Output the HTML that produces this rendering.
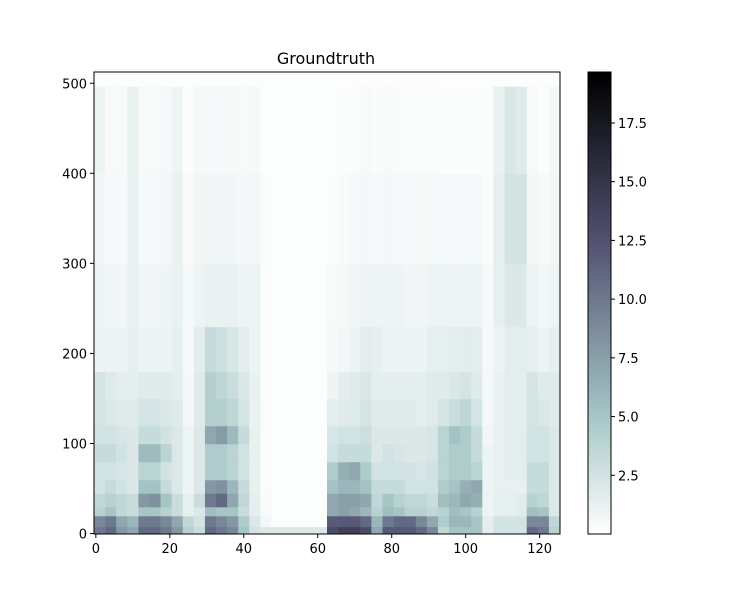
<!DOCTYPE html>
<html><head><meta charset="utf-8"><style>
body{margin:0;background:#fff;}
svg text{font-family:"DejaVu Sans","Liberation Sans",sans-serif;fill:#000;}
</style></head><body>
<svg id="chart" width="750" height="600" xmlns="http://www.w3.org/2000/svg">
<rect width="750" height="600" fill="#fff"/>
<text x="326" y="64" font-size="16" text-anchor="middle">Groundtruth</text>
<g id="cells"></g>
<rect x="94" y="72" width="466" height="462" fill="none" stroke="#000" stroke-width="1"/>
<g id="xaxis"></g>
<g id="yaxis"></g>
<g id="cbar"></g>
</svg>
<script>
const groupWidth = 3;
const bandEdges = [0,8,20,30,45,60,80,100,120,150,180,230,300,400,497,513];
const xTicks = [0,20,40,60,80,100,120];
const yTicks = [0,100,200,300,400,500];
const cbTicks = [2.5,5.0,7.5,10.0,12.5,15.0,17.5];
const vmax = 19.67;
const Z = 0.15;
const ZZ = [Z,Z,Z,Z,Z];
const b0 = [10,11,8,7,11,11,10,8,4,3,11,10,9,5,2.5,2,2,2,2,2,2,13,14,14,13,7,12,12,12,11,9,3.5,5,5,5,1.5,2.5,2.5,2.5,11,10,4];
const b1 = [9,10,7,6,10,10,9,7,3.5,2.5,10,9,8,4.5,2,0.8,...ZZ,12,12,12,11,6,10,11,11,9,7,4.5,6,6,5,1.5,2.5,2.5,2.5,9,9,3.5];
const b2 = [4,5,3.5,3,5,5,4,3,1.4,2,5.5,5,5,3,1.4,0.4,...ZZ,7,7.5,7,6,4,5.5,5,4,4,3.5,4,5.5,5,4,1,1.4,1.4,1.7,5.5,5,2];
const b3 = [3.5,4,3.5,3,8,8.5,5,3,1.4,3,10,11,7,3.5,1.4,0.4,...ZZ,7,7.5,7.5,7,3.5,5,4,3.5,3.5,3,5.5,6,7,6.5,1,1.4,1.4,1.7,4,3.5,2];
const b4 = [2.6,3.2,2.6,2,5.2,5.2,3.2,2,1,2,8,8.5,6,3.2,1.3,0.3,...ZZ,5.2,6,6,5.2,3.2,3.2,3.2,2.6,2.6,2.6,4.5,5.2,6.5,7,1,1.3,1.3,1.3,3.2,3.2,2];
const b5 = [2.6,2.6,2.3,2,3.9,3.9,2.6,2,1,2,4.5,4.5,3.9,2.6,1.3,0.3,...ZZ,4.5,6.5,7,4.5,2.6,2.6,2.6,2.6,2.3,2.6,3.9,4.5,4.5,3.9,1,1.3,1.6,1.6,3.2,3.2,2];
const b6 = [3.2,3.2,2.6,2,5.8,5.8,3.9,2,1,2,4.5,4.5,3.9,2.6,1.3,0.3,...ZZ,2.6,3.2,3.2,3.2,2,2.6,2.3,2,2,2.3,3.9,4.5,4.5,3.2,1,1.3,1.6,1.6,2.6,2.6,2];
const b7 = [2.6,2.6,2.3,2,3.2,3.2,2.6,2,1,2,7,7.8,5.8,3.2,1.3,0.3,...ZZ,2.3,2.6,2.6,2.9,2,2,2,2,2,2.3,3.9,5.2,4.5,3.2,0.8,1.3,1.6,1.6,2.6,2.6,2];
const b8 = [2.4,2.1,1.8,1.8,2.4,2.4,2.1,1.8,0.7,1.8,4.2,4.2,3.6,2.4,1.2,0.3,...ZZ,1.5,1.8,1.8,2.4,1.8,1.8,1.8,1.8,1.5,1.8,2.4,3,3.6,2.4,0.6,1.2,1.5,1.5,2.4,2.1,1.8];
const b9 = [2.4,1.8,1.5,1.5,1.8,1.8,1.8,1.5,0.6,1.8,4.2,3.6,3,2.1,1.2,0.2,...ZZ,0.9,1.5,1.8,2.1,1.5,1.5,1.5,1.5,1.5,1.8,1.8,2.1,2.4,1.8,0.6,1.2,1.5,1.5,2.4,1.8,1.8];
const b10 = [1.1,1.1,1.1,1.4,1.1,1.1,1.1,1.4,0.55,1.6,3.3,2.8,2.2,1.6,1.1,0.2,...ZZ,0.55,0.8,1.1,1.6,1.4,1.1,1.1,1.1,1.1,1.4,1.4,1.6,1.6,1.6,0.55,1.1,1.6,1.6,1.4,1.1,1.4];
const b11 = [1,0.75,0.75,1.25,0.75,0.75,0.9,1.25,0.5,1,1.25,1.25,1.25,1,1,0.2,...ZZ,0.4,0.5,0.75,1,1,1,1,0.75,0.75,1,1,1,1,1,0.5,1.4,2,2,1,0.75,1];
const b12 = [0.75,0.5,0.5,1.25,0.5,0.5,0.75,1.25,0.4,0.75,0.75,0.75,0.75,0.6,0.75,0.2,...ZZ,0.25,0.35,0.5,0.6,0.5,0.6,0.5,0.5,0.5,0.5,0.5,0.5,0.5,0.5,0.3,1.4,2.5,2.5,0.6,0.4,0.75];
const b13 = [1,0.4,0.4,1.25,0.4,0.4,0.6,1,0.25,0.5,0.5,0.5,0.5,0.4,0.5,0.1,...ZZ,0.15,0.2,0.3,0.4,0.3,0.4,0.3,0.3,0.3,0.3,0.25,0.25,0.25,0.25,0.2,1.2,2.2,1.8,0.4,0.25,0.6];
const b14 = [Z,Z,Z,Z,Z,Z,Z,Z,Z,Z,Z,Z,Z,Z,Z,Z,Z,Z,Z,Z,Z,Z,Z,Z,Z,Z,Z,Z,Z,Z,Z,Z,Z,Z,Z,Z,Z,Z,Z,Z,Z,Z];
const bands = [b0,b1,b2,b3,b4,b5,b6,b7,b8,b9,b10,b11,b12,b13,b14];

const X0=94, X1=560, Y0=534, Y1=72, NC=126, NR=513;
const xs = v => X0 + (v+0.5)*(X1-X0)/NC;
const ys = v => Y0 - (v+0.5)*(Y0-Y1)/NR;
const cbY = v => 534 - v/vmax*462;
function bone(t){
  const interp=(pts,t)=>{for(let i=1;i<pts.length;i++){if(t<=pts[i][0]){const a=pts[i-1],b=pts[i];return a[1]+(b[1]-a[1])*(t-a[0])/(b[0]-a[0]);}}return 1;};
  return [interp([[0,0],[0.746032,0.652778],[1,1]],t),interp([[0,0],[0.365079,0.319444],[0.746032,0.777778],[1,1]],t),interp([[0,0],[0.365079,0.444444],[1,1]],t)];
}
function color(v){let t=Math.max(0,Math.min(1,v/vmax));const c=bone(1-t);return `rgb(${c.map(x=>Math.round(x*255)).join(',')})`;}
const NS="http://www.w3.org/2000/svg";
const cells=document.getElementById('cells');
bands.forEach((row,bi)=>{
  row.forEach((v,g)=>{
    const r=document.createElementNS(NS,'rect');
    const xa=xs(g*groupWidth-0.5), xb=xs(Math.min(NC,(g+1)*groupWidth)-0.5);
    const ya=ys(bandEdges[bi+1]-0.5), yb=ys(bandEdges[bi]-0.5);
    r.setAttribute('x',xa);r.setAttribute('y',ya);
    r.setAttribute('width',xb-xa+0.3);r.setAttribute('height',yb-ya+0.3);
    r.setAttribute('fill',color(v));
    
    
    cells.appendChild(r);
  });
});
function line(p,x1,y1,x2,y2){const l=document.createElementNS(NS,'line');l.setAttribute('x1',x1);l.setAttribute('y1',y1);l.setAttribute('x2',x2);l.setAttribute('y2',y2);l.setAttribute('stroke','#000');p.appendChild(l);return l;}
function txt(p,x,y,s,anchor){const t=document.createElementNS(NS,'text');t.setAttribute('x',x);t.setAttribute('y',y);t.setAttribute('font-size','13');t.setAttribute('text-anchor',anchor);t.textContent=s;p.appendChild(t);return t;}
const xa=document.getElementById('xaxis');
xTicks.forEach(v=>{const x=xs(v);const l=line(xa,x,534,x,538);


const t=txt(xa,x,553,String(v),'middle');

});
const ya=document.getElementById('yaxis');
yTicks.forEach(v=>{const y=ys(v);const l=line(ya,90,y,94,y);


const t=txt(ya,87,y+5,String(v),'end');

});
const cb=document.getElementById('cbar');
for(let i=0;i<231;i++){const v0=i/231*vmax;const r=document.createElementNS(NS,'rect');
r.setAttribute('x',588);r.setAttribute('y',534-(i+1)*2);r.setAttribute('width',23);r.setAttribute('height',2.3);r.setAttribute('fill',color(v0+vmax/462));


cb.appendChild(r);}
const fr=document.createElementNS(NS,'rect');fr.setAttribute('x',588);fr.setAttribute('y',72);fr.setAttribute('width',23);fr.setAttribute('height',462);fr.setAttribute('fill','none');fr.setAttribute('stroke','#000');


cb.appendChild(fr);
cbTicks.forEach(v=>{const y=cbY(v);const l=line(cb,611,y,615,y);


const t=txt(cb,618,y+5,v.toFixed(1),'start');

});
</script>
</body></html>
